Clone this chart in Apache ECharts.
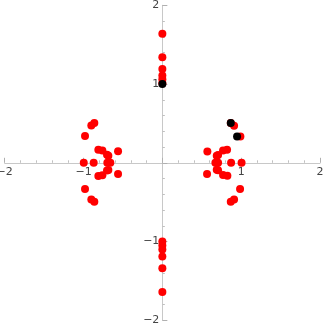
<!DOCTYPE html>
<html>
<head>
<meta charset="utf-8">
<script src="https://cdn.jsdelivr.net/npm/echarts@6/dist/echarts.min.js"></script>
<style>html,body{margin:0;padding:0;background:#fff}#c{width:323px;height:327px}</style>
</head>
<body>
<div id="c"></div>
<script>
var redX = [0, 0, 0, 0, 0, 0,
  0, 0, 0, 0, 0, 0,
  0.868, 0.91, 0.99, 0.571, 0.707, 0.69, 0.77, 0.821, 0.673, 0.707, 0.872, 1.005,
  0.567, 0.707, 0.69, 0.77, 0.825, 0.986, 0.91, 0.868,
  -0.863, -0.901, -0.981, -0.812, -0.761, -0.702, -0.685, -0.562, -0.997, -0.871, -0.698, -0.66,
  -0.702, -0.685, -0.812, -0.761, -0.562, -0.981, -0.901, -0.863];
var redY = [1.01, 1.06, 1.11, 1.19, 1.34, 1.64,
  -1.0, -1.05, -1.1, -1.19, -1.34, -1.64,
  0.504, 0.47, 0.334, 0.143, 0.1, 0.089, 0.156, 0.165, 0, 0, 0, 0,
  -0.143, -0.095, -0.089, -0.156, -0.165, -0.334, -0.465, -0.495,
  0.504, 0.473, 0.34, 0.165, 0.156, 0.102, 0.09, 0.146, 0, 0, 0, 0,
  -0.098, -0.09, -0.167, -0.158, -0.143, -0.334, -0.465, -0.495];
var blackX = [0, 0.868, 0.948];
var blackY = [1.0, 0.504, 0.334];
var tickLabels = {'-2': '\u22122', '-1': '\u22121', '1': '1', '2': '2'};

function pairs(xs, ys) { return xs.map(function (x, i) { return [x, ys[i]]; }); }
function fmt(v) { var k = String(Math.round(v)); return (Math.abs(v - Math.round(v)) < 1e-9 && tickLabels[k]) ? tickLabels[k] : ''; }

var W = 323, H = 327, L = 4.7, R = 3, T = 5.3, B = 6.7;
var gw = W - L - R, gh = H - T - B;

var axisCommon = {
  type: 'value', min: -2, max: 2, interval: 1,
  axisLine: { show: true, onZero: false, lineStyle: { color: '#c8c8c8', width: 1 } },
  axisTick: { show: true, inside: true, length: 5, lineStyle: { color: '#b0b0b0' } },
  minorTick: { show: true, splitNumber: 5, length: 2.5, lineStyle: { color: '#c0c0c0' } },
  splitLine: { show: false },
  axisLabel: { show: true, formatter: fmt, color: '#444', fontSize: 11, fontFamily: 'DejaVu Sans', showMinLabel: true, showMaxLabel: true }
};
var chart = echarts.init(document.getElementById('c'), null, { renderer: 'canvas' });
chart.setOption({
  animation: false,
  grid: { left: L, right: R, top: T, bottom: B, containLabel: false, outerBoundsMode: 'none' },
  xAxis: Object.assign({}, axisCommon, { position: 'bottom', offset: -gh / 2, axisLabel: Object.assign({}, axisCommon.axisLabel, { margin: 4 }) }),
  yAxis: Object.assign({}, axisCommon, { position: 'left', offset: -gw / 2, axisLabel: Object.assign({}, axisCommon.axisLabel, { margin: 3 }) }),
  series: [
    { type: 'scatter', data: pairs(redX, redY), symbolSize: 8, itemStyle: { color: '#ff0000', opacity: 1 }, z: 2 },
    { type: 'scatter', data: pairs(blackX, blackY), symbolSize: 8, itemStyle: { color: '#000000', opacity: 1 }, z: 3 }
  ]
});
</script>
</body>
</html>
